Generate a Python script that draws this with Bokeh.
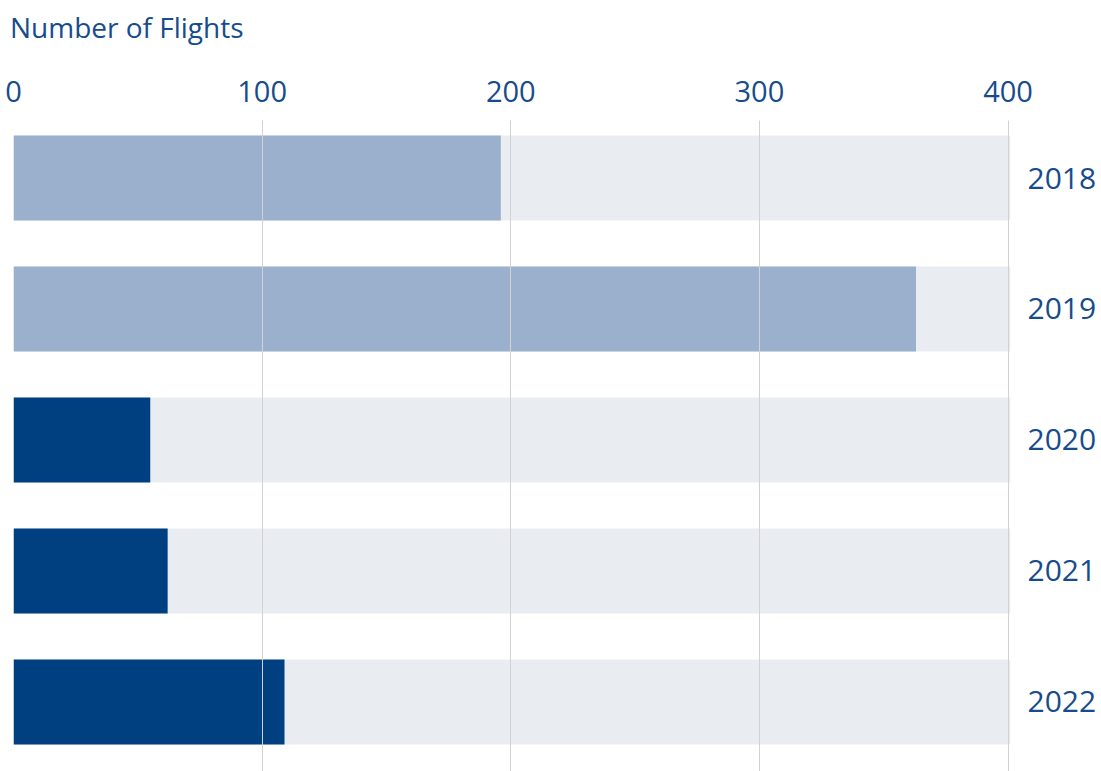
from bokeh.plotting import figure
from bokeh.models import ColumnDataSource, Range1d, FixedTicker, LinearAxis, Div
from bokeh.layouts import column
from bokeh.embed import file_html
from bokeh.resources import INLINE

years = ["2018", "2019", "2020", "2021", "2022"]
flights = [196, 363, 55, 62, 109]
x_ticks = [0, 100, 200, 300, 400]
title_text = "Number of Flights"

LIGHT = "#9bb0cd"
DARK = "#004080"
TRACK = "#e9edf2"
TEXT = "#174c8c"
FONT = "Open Sans"
bar_colors = [LIGHT, LIGHT, DARK, DARK, DARK]

ypos = [len(years) - 1 - i for i in range(len(years))]
src = ColumnDataSource(dict(y=ypos, flights=flights, year=years, color=bar_colors))

p = figure(frame_width=997, frame_height=651, output_backend="svg", toolbar_location=None,
           x_range=Range1d(0, 401), y_range=Range1d(-0.531, 4.439),
           x_axis_location=None, y_axis_location=None,
           min_border_left=13, min_border_right=91, min_border_bottom=0, min_border_top=70)
p.outline_line_color = None
p.background_fill_color = "white"
p.border_fill_color = "white"

p.hbar(y="y", left=0, right=401, height=0.65, source=src, color=TRACK, line_color=None)
p.hbar(y="y", left=0, right="flights", height=0.65, source=src, color="color", line_color=None)

xa = LinearAxis(ticker=FixedTicker(ticks=x_ticks))
xa.axis_line_color = None
xa.major_tick_line_color = None
xa.minor_tick_line_color = None
xa.major_label_text_font = FONT
xa.major_label_text_font_size = "29px"
xa.major_label_text_color = TEXT
xa.major_label_standoff = 13
p.add_layout(xa, "above")

ya = LinearAxis(ticker=FixedTicker(ticks=ypos),
                major_label_overrides={y: yr for y, yr in zip(ypos, years)})
ya.axis_line_color = None
ya.major_tick_line_color = None
ya.minor_tick_line_color = None
ya.major_label_text_font = FONT
ya.major_label_text_font_size = "30px"
ya.major_label_text_color = TEXT
ya.major_label_standoff = 11
p.add_layout(ya, "right")

p.xgrid.ticker = FixedTicker(ticks=x_ticks)
p.xgrid.grid_line_color = "#d2d2d2"
p.xgrid.grid_line_width = 1
p.xgrid.level = "overlay"
p.ygrid.grid_line_color = None

title = Div(text=title_text, width=1101, height=50, margin=(0, 0, 0, 0),
            styles={"font-family": FONT, "font-size": "28px", "line-height": "28px",
                    "color": TEXT, "padding-top": "13px", "padding-left": "10px",
                    "box-sizing": "border-box", "white-space": "nowrap"})

layout = column(title, p, spacing=0)
open("out.html", "w").write(file_html(layout, INLINE))
